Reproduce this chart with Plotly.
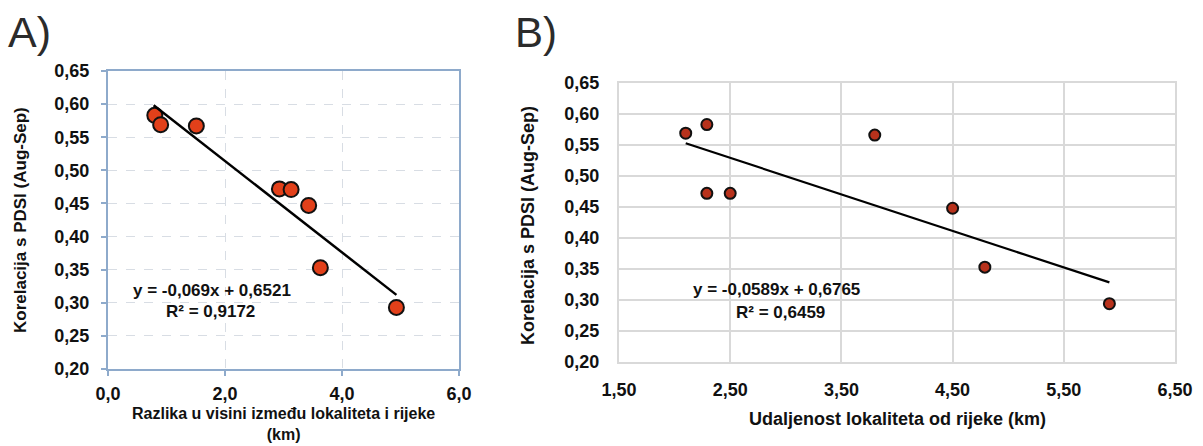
import plotly.graph_objects as go

# Panel A data
xa = [0.80, 0.90, 1.51, 2.93, 3.13, 3.43, 3.63, 4.93]
ya = [0.583, 0.569, 0.567, 0.472, 0.471, 0.447, 0.353, 0.293]
slope_a, icpt_a = -0.069, 0.6521
eq_a = ["y = -0,069x + 0,6521", "R² = 0,9172"]

# Panel B data
xb = [2.10, 2.29, 3.80, 2.29, 2.50, 4.50, 4.79, 5.91]
yb = [0.569, 0.583, 0.566, 0.472, 0.472, 0.448, 0.353, 0.294]
slope_b, icpt_b = -0.0589, 0.6765
eq_b = ["y = -0,0589x + 0,6765", "R² = 0,6459"]

ytitle = "Korelacija s PDSI (Aug-Sep)"
xtitle_a = "Razlika u visini između lokaliteta i rijeke<br>(km)"
xtitle_b = "Udaljenost lokaliteta od rijeke (km)"

W, H = 1203, 446
FONT = "Liberation Sans, Arial, sans-serif"
NARROW = "Liberation Sans Narrow, Arial Narrow, Liberation Sans, Arial, sans-serif"

def px(x):
    return x / W

def py(y):
    return 1 - y / H

fig = go.Figure()

# A scatter + trend
fig.add_trace(go.Scatter(x=xa, y=ya, mode="markers", xaxis="x", yaxis="y",
                         marker=dict(size=15, color="#e2401a", line=dict(color="#111111", width=2)),
                         showlegend=False))
xa_line = [min(xa) - 0.02, max(xa)]
fig.add_trace(go.Scatter(x=xa_line, y=[slope_a * v + icpt_a for v in xa_line], mode="lines",
                         xaxis="x", yaxis="y", line=dict(color="#000000", width=2.5), showlegend=False))

# B scatter + trend
fig.add_trace(go.Scatter(x=xb, y=yb, mode="markers", xaxis="x2", yaxis="y2",
                         marker=dict(size=11, color="#b8321c", line=dict(color="#111111", width=2)),
                         showlegend=False))
xb_line = [min(xb), max(xb)]
fig.add_trace(go.Scatter(x=xb_line, y=[slope_b * v + icpt_b for v in xb_line], mode="lines",
                         xaxis="x2", yaxis="y2", line=dict(color="#000000", width=2.2), showlegend=False))

tickfont = dict(family=FONT, size=18, color="#111111", weight="bold")
blue = "#8eaacb"

fig.update_layout(
    template="none",
    width=W, height=H, autosize=False,
    margin=dict(l=0, r=0, t=0, b=0, pad=0, autoexpand=False),
    paper_bgcolor="white", plot_bgcolor="white",
    separators=", ",
    font=dict(family=FONT, color="#111111"),
    xaxis=dict(domain=[px(108), px(459)], range=[0, 6], dtick=2, tick0=0, tickformat=".1f",
               showgrid=True, gridcolor="#d8dde4", griddash="dash", gridwidth=1,
               showline=True, mirror=True, linecolor=blue, linewidth=2,
               ticks="outside", ticklen=5, tickcolor=blue, tickwidth=1.5, automargin=False,
               tickfont=tickfont, ticklabelstandoff=2, zeroline=False, anchor="y"),
    yaxis=dict(domain=[py(369), py(71)], range=[0.20, 0.65], dtick=0.05, tick0=0.2, tickformat=".2f",
               showgrid=True, gridcolor="#d8dde4", griddash="dash", gridwidth=1,
               showline=True, mirror=True, linecolor=blue, linewidth=2,
               ticks="outside", ticklen=5, tickcolor=blue, tickwidth=1.5, automargin=False,
               tickfont=tickfont, ticklabelstandoff=8, zeroline=False, anchor="x"),
    xaxis2=dict(domain=[px(619), px(1175)], range=[1.5, 6.5], dtick=1, tick0=1.5, tickformat=".2f",
                showgrid=True, gridcolor="#d9d9d9", gridwidth=2,
                showline=True, mirror=True, linecolor="#d9d9d9", linewidth=2, automargin=False,
                ticks="", tickfont=tickfont, ticklabelstandoff=10, zeroline=False, anchor="y2"),
    yaxis2=dict(domain=[py(362), py(83)], range=[0.20, 0.65], dtick=0.05, tick0=0.2, tickformat=".2f",
                showgrid=True, gridcolor="#d9d9d9", gridwidth=2,
                showline=True, mirror=True, linecolor="#d9d9d9", linewidth=2, automargin=False,
                ticks="", tickfont=tickfont, ticklabelstandoff=14, zeroline=False, anchor="x2"),
)

ann = []
# Panel labels
ann.append(dict(text="A)", x=px(6), y=py(32), xref="paper", yref="paper", xanchor="left", yanchor="middle",
                showarrow=False, font=dict(family=FONT, size=43, color="#2b2b2b")))
ann.append(dict(text="B)", x=px(513), y=py(33), xref="paper", yref="paper", xanchor="left", yanchor="middle",
                showarrow=False, font=dict(family=FONT, size=42, color="#2b2b2b")))
# Axis titles A
ann.append(dict(text=ytitle, x=px(20), y=py(220), xref="paper", yref="paper",
                textangle=-90, showarrow=False, xanchor="center", yanchor="middle",
                font=dict(family=FONT, size=17, color="#111111", weight="bold")))
ann.append(dict(text=xtitle_a, x=px(283), y=py(424), xref="paper", yref="paper",
                showarrow=False, xanchor="center", yanchor="middle",
                font=dict(family=FONT, size=16, color="#111111", weight="bold")))
# Axis titles B
ann.append(dict(text=ytitle, x=px(528), y=py(226), xref="paper", yref="paper",
                textangle=-90, showarrow=False, xanchor="center", yanchor="middle",
                font=dict(family=FONT, size=18, color="#111111", weight="bold")))
ann.append(dict(text=xtitle_b, x=px(897), y=py(419), xref="paper", yref="paper",
                showarrow=False, xanchor="center", yanchor="middle",
                font=dict(family=FONT, size=18, color="#111111", weight="bold")))
# Equations
eqfont = dict(family=NARROW, size=17, color="#111111", weight="bold")
ann.append(dict(text=eq_a[0], x=px(212), y=py(290), xref="paper", yref="paper",
                showarrow=False, xanchor="center", yanchor="middle", font=eqfont))
ann.append(dict(text=eq_a[1], x=px(210), y=py(311), xref="paper", yref="paper",
                showarrow=False, xanchor="center", yanchor="middle", font=eqfont))
ann.append(dict(text=eq_b[0], x=px(776), y=py(289), xref="paper", yref="paper",
                showarrow=False, xanchor="center", yanchor="middle", font=eqfont))
ann.append(dict(text=eq_b[1], x=px(780), y=py(312), xref="paper", yref="paper",
                showarrow=False, xanchor="center", yanchor="middle", font=eqfont))

fig.update_layout(annotations=ann)
fig.write_html("out.html", config={"displayModeBar": False},
               post_script="document.body.style.margin='0';document.body.style.padding='0';"
                           "document.body.style.overflow='hidden';")
